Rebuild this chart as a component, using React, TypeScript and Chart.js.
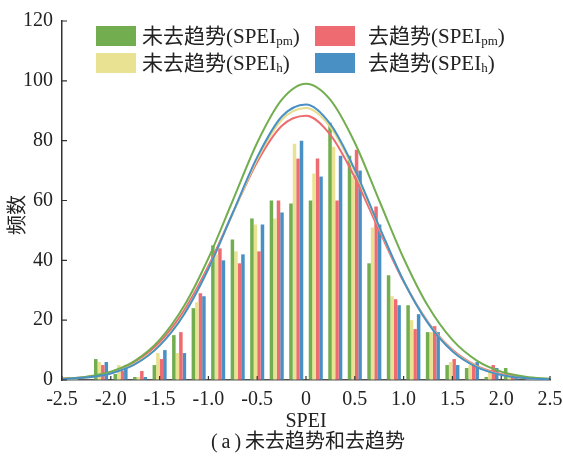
import React, { useEffect, useRef } from 'react';
import { Chart, registerables } from 'chart.js';

Chart.register(...registerables);

// ---- data ----
const binCenters = [-2.3, -2.1, -1.9, -1.7, -1.5, -1.3, -1.1, -0.9, -0.7, -0.5, -0.3, -0.1, 0.1, 0.3, 0.5, 0.7, 0.9, 1.1, 1.3, 1.5, 1.7, 1.9, 2.1, 2.3];
const rawPm = [1, 7, 2, 1, 5, 15, 24, 45, 47, 54, 60, 59, 60, 86, 75, 39, 35, 25, 16, 5, 4, 1, 4, 0];
const rawH = [0, 6, 5, 1, 9, 9, 26, 42, 43, 52, 54, 79, 69, 78, 68, 51, 28, 20, 16, 6, 5, 3, 2, 0];
const detPm = [0, 5, 3, 3, 7, 16, 29, 44, 39, 43, 60, 74, 74, 60, 77, 58, 27, 17, 18, 7, 5, 5, 1, 0];
const detH = [0, 6, 5, 1, 10, 9, 28, 40, 42, 52, 56, 80, 68, 75, 70, 52, 25, 22, 16, 5, 6, 4, 1, 0];

const curveX = [-2.5, -2.25, -2.0, -1.75, -1.5, -1.25, -1.0, -0.75, -0.5, -0.25, 0, 0.25, 0.5, 0.75, 1.0, 1.25, 1.5, 1.75, 2.0, 2.25, 2.5];
const curveRawPm = [0.4, 1.1, 2.8, 6.5, 13.4, 24.7, 40.7, 60.0, 79.3, 93.6, 99.0, 93.6, 79.3, 60.0, 40.7, 24.7, 13.4, 6.5, 2.8, 1.1, 0.4];
const curveRawH = [0.3, 0.8, 2.3, 5.5, 11.6, 22.1, 37.2, 55.6, 73.8, 86.9, 90.9, 84.5, 69.7, 51.0, 33.2, 19.2, 9.8, 4.5, 1.8, 0.6, 0.2];
const curveDetPm = [0.4, 1.0, 2.6, 6.1, 12.6, 23.2, 38.1, 55.8, 72.9, 84.9, 88.3, 81.9, 67.7, 50.0, 32.9, 19.4, 10.1, 4.7, 2.0, 0.7, 0.2];
const curveDetH = [0.3, 0.8, 2.2, 5.3, 11.5, 21.9, 37.2, 55.9, 74.5, 88.0, 92.1, 85.5, 70.3, 51.3, 33.1, 19.0, 9.6, 4.3, 1.7, 0.6, 0.2];

const xTickValues = [-2.5, -2.0, -1.5, -1.0, -0.5, 0, 0.5, 1.0, 1.5, 2.0, 2.5];
const xTickLabels = ['-2.5', '-2.0', '-1.5', '-1.0', '-0.5', '0', '0.5', '1.0', '1.5', '2.0', '2.5'];
const yTickValues = [0, 20, 40, 60, 80, 100, 120];
const yTickLabels = ['0', '20', '40', '60', '80', '100', '120'];

const legendMain = ['未去趋势(SPEI', '去趋势(SPEI', '未去趋势(SPEI', '去趋势(SPEI'];
const legendSub = ['pm', 'pm', 'h', 'h'];
const xTitle = 'SPEI';
const yTitle = '频数';
const captionParts = ['(', 'a', ')', '未去趋势和去趋势'];

const GREEN = '#72ae50';
const YELLOW = '#e9e292';
const RED = '#ee6b72';
const BLUE = '#4991c5';
const legendColors = [GREEN, RED, YELLOW, BLUE];

const SERIF = "'Liberation Serif', 'Noto Sans CJK SC', serif";

const decorPlugin = {
  id: 'decor',
  afterDraw(chart: any) {
    const { ctx, chartArea: a, scales } = chart;
    ctx.save();
    // inward ticks
    ctx.strokeStyle = '#333';
    ctx.lineWidth = 1.2;
    ctx.beginPath();
    for (const v of yTickValues) {
      const y = scales.y.getPixelForValue(v);
      ctx.moveTo(a.left, y);
      ctx.lineTo(a.left + 5, y);
    }
    for (const v of xTickValues) {
      const x = scales.x.getPixelForValue(v);
      ctx.moveTo(x, a.bottom);
      ctx.lineTo(x, a.bottom - 4);
    }
    ctx.stroke();

    // legend
    const boxX = [96, 315];
    const textX = [142, 368];
    const rowY = [26, 53];
    for (let i = 0; i < 4; i++) {
      const col = i % 2;
      const row = Math.floor(i / 2);
      ctx.fillStyle = legendColors[i];
      ctx.fillRect(boxX[col], rowY[row], 40, 20);
      const cy = rowY[row] + 11;
      ctx.fillStyle = '#222';
      ctx.textBaseline = 'middle';
      ctx.textAlign = 'left';
      ctx.font = `21px ${SERIF}`;
      let x = textX[col];
      ctx.fillText(legendMain[i], x, cy);
      x += ctx.measureText(legendMain[i]).width;
      ctx.font = `13px ${SERIF}`;
      ctx.fillText(legendSub[i], x, cy + 5);
      x += ctx.measureText(legendSub[i]).width;
      ctx.font = `21px ${SERIF}`;
      ctx.fillText(')', x, cy);
    }

    // y title
    ctx.save();
    ctx.translate(19, 215);
    ctx.rotate(-Math.PI / 2);
    ctx.font = `20px ${SERIF}`;
    ctx.fillStyle = '#222';
    ctx.textAlign = 'center';
    ctx.textBaseline = 'middle';
    ctx.fillText(yTitle, 0, 0);
    ctx.restore();

    // caption: "( a )" spaced, then Chinese text
    ctx.font = `20px ${SERIF}`;
    ctx.fillStyle = '#222';
    ctx.textAlign = 'left';
    ctx.textBaseline = 'middle';
    const gap = 4;
    const widths = captionParts.map((p) => ctx.measureText(p).width);
    const total = widths.reduce((s, w) => s + w, 0) + gap * 3;
    let cx = 308 - total / 2;
    captionParts.forEach((p, i) => {
      ctx.fillText(p, cx, 443);
      cx += widths[i] + gap;
    });
    ctx.restore();
  },
};

export default function App() {
  const ref = useRef<HTMLCanvasElement>(null);
  useEffect(() => {
    document.body.style.margin = '0';
    const mkBar = (label: string, vals: number[], color: string) => ({
      type: 'bar' as const,
      label,
      data: binCenters.map((x, i) => ({ x, y: vals[i] })),
      backgroundColor: color,
      borderWidth: 0,
      categoryPercentage: 0.72,
      barPercentage: 1.0,
      order: 10,
    });
    const mkLine = (label: string, vals: number[], color: string, order: number) => ({
      type: 'line' as const,
      label,
      data: curveX.map((x, i) => ({ x, y: vals[i] })),
      borderColor: color,
      backgroundColor: color,
      borderWidth: 2,
      pointRadius: 0,
      fill: false,
      cubicInterpolationMode: 'monotone' as const,
      order,
    });
    const chart = new Chart(ref.current!, {
      type: 'bar',
      data: {
        datasets: [
          mkBar('未去趋势(SPEIpm)', rawPm, GREEN),
          mkBar('未去趋势(SPEIh)', rawH, YELLOW),
          mkBar('去趋势(SPEIpm)', detPm, RED),
          mkBar('去趋势(SPEIh)', detH, BLUE),
          mkLine('fit 未去趋势(SPEIpm)', curveRawPm, GREEN, 2),
          mkLine('fit 未去趋势(SPEIh)', curveRawH, '#e6dc8a', 3),
          mkLine('fit 去趋势(SPEIpm)', curveDetPm, RED, 4),
          mkLine('fit 去趋势(SPEIh)', curveDetH, BLUE, 1),
        ] as any,
      },
      options: {
        responsive: false,
        animation: false,
        layout: { padding: { left: 0, right: 13, top: 19, bottom: 0 } },
        plugins: { legend: { display: false }, tooltip: { enabled: false } },
        scales: {
          x: {
            type: 'linear',
            min: -2.5,
            max: 2.5,
            offset: false,
            afterBuildTicks: (s: any) => {
              s.ticks = xTickValues.map((v) => ({ value: v }));
            },
            afterFit: (s: any) => {
              s.height = 85;
              s.paddingRight = 0;
              s.paddingLeft = 0;
            },
            ticks: {
              autoSkip: false,
              maxRotation: 0,
              padding: 8,
              color: '#222',
              font: { family: SERIF, size: 20 },
              callback: (v: any) => {
                const i = xTickValues.findIndex((t) => Math.abs(t - v) < 1e-6);
                return i >= 0 ? xTickLabels[i] : '';
              },
            },
            grid: { display: true, drawOnChartArea: false, drawTicks: false },
            border: { display: true, color: '#555', width: 1.5 },
            title: {
              display: true,
              text: xTitle,
              color: '#222',
              font: { family: SERIF, size: 20 },
              padding: { top: 0, bottom: 31 },
            },
          },
          y: {
            min: 0,
            max: 120,
            afterBuildTicks: (s: any) => {
              s.ticks = yTickValues.map((v) => ({ value: v }));
            },
            afterFit: (s: any) => {
              s.width = 62;
            },
            ticks: {
              padding: 9,
              color: '#222',
              font: { family: SERIF, size: 20 },
              callback: (v: any) => {
                const i = yTickValues.indexOf(v);
                return i >= 0 ? yTickLabels[i] : '';
              },
            },
            grid: { display: true, drawOnChartArea: false, drawTicks: false },
            border: { display: true, color: '#333', width: 1.5 },
          },
        },
      } as any,
      plugins: [decorPlugin],
    });
    return () => chart.destroy();
  }, []);
  return (
    <div style={{ width: 563, height: 465 }}>
      <canvas ref={ref} width={563} height={465} style={{ display: 'block' }} />
    </div>
  );
}
